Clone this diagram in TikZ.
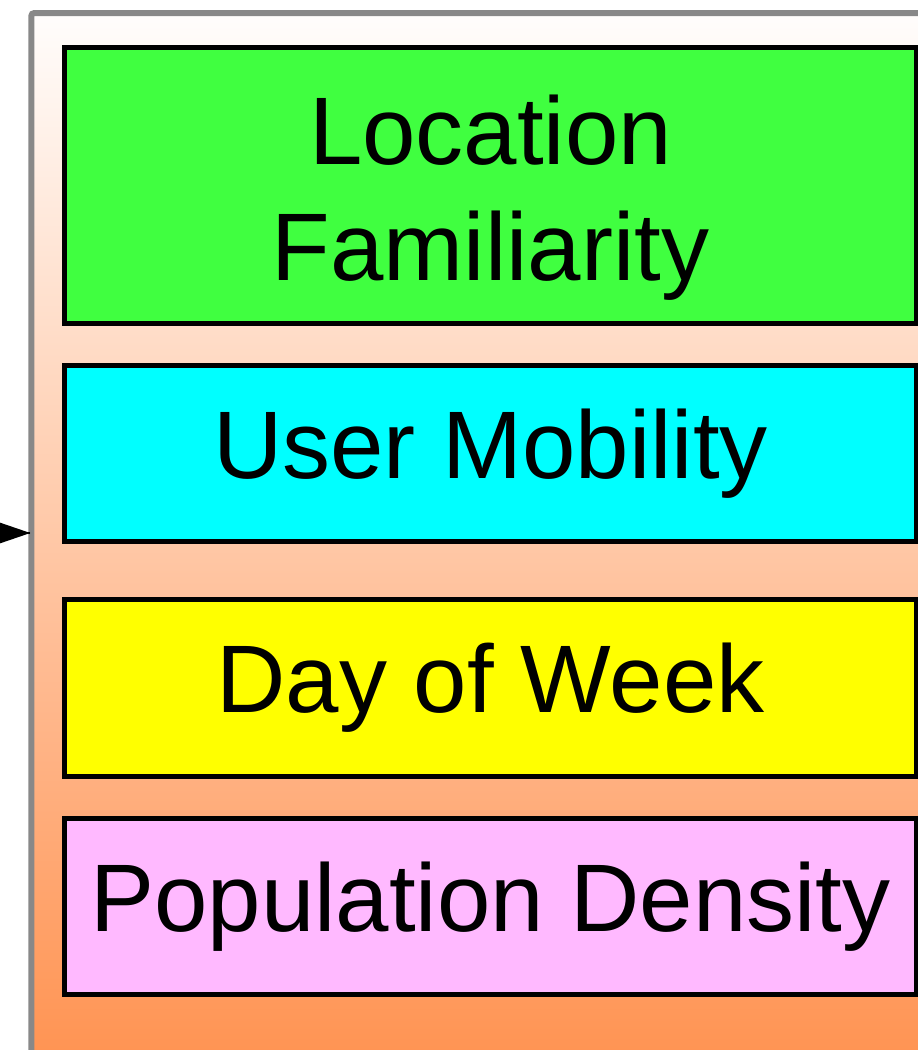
\documentclass[tikz,border=0pt]{standalone}
\usepackage{fontspec}
\setmainfont{Liberation Sans}
\definecolor{lfgreen}{RGB}{64,255,64}
\definecolor{umcyan}{RGB}{0,255,255}
\definecolor{dwyellow}{RGB}{255,255,0}
\definecolor{pdpink}{RGB}{255,185,255}
\definecolor{topc}{RGB}{255,253,252}
\definecolor{botc}{RGB}{255,146,80}
\definecolor{framegray}{RGB}{136,136,136}
\begin{document}
\begin{tikzpicture}[x=1pt,y=-1pt,
  factor/.style={draw=black,line width=5pt,minimum width=852pt,anchor=north west,
    outer sep=0pt,inner sep=0pt,align=center,font=\fontsize{96}{116}\selectfont},
]
\useasboundingbox (0,0) rectangle (918,1050);
\begin{scope}
\clip (0,0) rectangle (918,1050);
\node[anchor=north west,inner sep=0pt,outer sep=0pt,minimum width=910pt,minimum height=1060pt,
  top color=topc,bottom color=botc,draw=framegray,line width=6pt,rounded corners=3pt] (frame) at (31.3,13) {};
\node[factor,fill=lfgreen,minimum height=276pt] (lf) at (64.5,47.5) {\rule{0pt}{93pt}Location\\Familiarity};
\node[factor,fill=umcyan,minimum height=176pt] (um) at (64.5,365.5) {User Mobility};
\node[factor,fill=dwyellow,minimum height=177pt] (dw) at (64.5,599.5) {Day of Week};
\node[factor,fill=pdpink,minimum height=176pt] (pd) at (64.5,818.5) {Population Density};
\end{scope}
\coordinate (src) at (-10,533);
\coordinate (tip) at ([xshift=-1pt]frame.west |- src);
\draw[line width=2pt] (src) -- (tip);
\fill (tip) -- ([shift={(-38pt,-13pt)}]tip) -- ([shift={(-38pt,13pt)}]tip) -- cycle;
\end{tikzpicture}
\end{document}
